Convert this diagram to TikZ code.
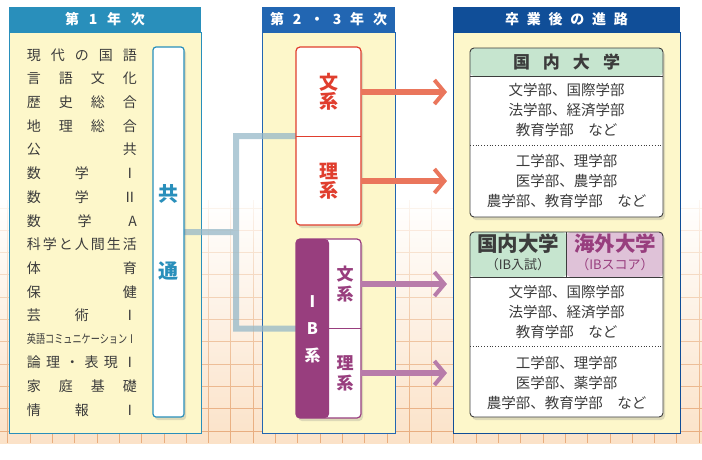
\documentclass[tikz,border=0pt]{standalone}
\usepackage{fontspec}
\setmainfont{Noto Sans CJK JP}
\usepackage{graphicx}
\usetikzlibrary{positioning,calc,arrows.meta,shadows,fadings,backgrounds}

\definecolor{colyellow}{RGB}{253,247,202}
\definecolor{headteal}{RGB}{41,143,187}
\definecolor{headblue}{RGB}{34,102,178}
\definecolor{headnavy}{RGB}{16,78,152}
\definecolor{bunred}{RGB}{224,62,46}
\definecolor{arrowred}{RGB}{234,118,92}
\definecolor{ibpurple}{RGB}{152,62,126}
\definecolor{arrowpurple}{RGB}{184,124,170}
\definecolor{linkgray}{RGB}{150,184,200}
\definecolor{unigreen}{RGB}{198,229,207}
\definecolor{unipink}{RGB}{223,194,216}
\definecolor{textgray}{RGB}{60,60,60}
\definecolor{gridpeach}{RGB}{232,172,125}
\definecolor{bgpeach}{RGB}{251,226,200}

\tikzfading[name=gridfade, top color=transparent!90, bottom color=transparent!0]

\pgfdeclarelayer{links}
\pgfsetlayers{background,links,main}

\newcommand{\spread}[2]{\makebox[#1][s]{#2}}

\begin{document}
\begin{tikzpicture}[
  x=1pt, y=-1pt,
  every node/.style={inner sep=0pt, outer sep=0pt, align=center},
  colhead/.style={minimum height=25pt, text=white, font=\bfseries\fontsize{14}{14}\selectfont},
  colbody/.style={fill=colyellow, line width=0.8pt, minimum height=401pt},
  subj/.style={anchor=west, text=textgray, font=\fontsize{14}{14}\selectfont},
  shade/.style={drop shadow={opacity=0.25, shadow xshift=2pt, shadow yshift=-3pt}},
  kyobox/.style={shade, fill=white, draw=headteal, line width=1.2pt, rounded corners=3pt},
  kyotext/.style={text=headteal, font=\bfseries\fontsize{20}{20}\selectfont},
  bunbox/.style={shade, fill=white, draw=bunred, line width=1.2pt, rounded corners=4pt},
  buntext/.style={text=bunred, font=\bfseries\fontsize{19}{19}\selectfont},
  ibbox/.style={shade, fill=white, draw=ibpurple, line width=1.2pt, rounded corners=4pt},
  ibtext/.style={text=ibpurple, font=\bfseries\fontsize{17}{20}\selectfont},
  unibox/.style={shade, fill=white, draw=textgray, line width=0.9pt, rounded corners=4pt},
  unihead/.style={text=textgray, font=\bfseries\fontsize{17}{17}\selectfont},
  unibig/.style={text=textgray, font=\bfseries\fontsize{20.5}{21}\selectfont},
  unisub/.style={text=textgray, font=\fontsize{13}{13}\selectfont},
  unitext/.style={text=textgray, font=\fontsize{14.5}{20}\selectfont},
  dotline/.style={textgray, line width=0.8pt, dotted},
  link/.style={linkgray, line width=6pt},
  redarrow/.style={arrowred, line width=6pt, shorten >=6pt,
    -{Straight Barb[length=10pt, width=24pt, line width=4pt]}},
  purplearrow/.style={redarrow, arrowpurple}
]
\useasboundingbox (0,0) rectangle (702,459);

% background grid and columns
\begin{scope}[on background layer]
  \fill[top color=white, bottom color=bgpeach] (0,200) rectangle (702,443);
  \draw[gridpeach, line width=1pt, path fading=gridfade]
    \foreach \gx in {0,...,31} {({8+22.3*\gx},200) -- ({8+22.3*\gx},443)}
    \foreach \gy in {0,...,10} {(0,{208+22.3*\gy}) -- (702,{208+22.3*\gy})};

  \node[colhead, fill=headteal, minimum width=192pt, anchor=north west] (head1) at (9,7)
    {\spread{80pt}{第\hfill 1\hfill 年\hfill 次}};
  \node[colbody, draw=headteal, minimum width=192pt, below=0pt of head1] (body1) {};
  \node[colhead, fill=headblue, minimum width=133pt, anchor=north west] (head2) at (262,7)
    {\spread{117pt}{第\hfill 2\hfill ・\hfill 3\hfill 年\hfill 次}};
  \node[colbody, draw=headblue, minimum width=133pt, below=0pt of head2] (body2) {};
  \node[colhead, fill=headnavy, minimum width=227pt, anchor=north west] (head3) at (453,7)
    {\spread{123pt}{卒\hfill 業\hfill 後\hfill の\hfill 進\hfill 路}};
  \node[colbody, draw=headnavy, minimum width=227pt, below=0pt of head3] (body3) {};
\end{scope}

% first year
\foreach \txt [count=\i] in {
  {現\hfill 代\hfill の\hfill 国\hfill 語},
  {言\hfill 語\hfill 文\hfill 化},
  {歴\hfill 史\hfill 総\hfill 合},
  {地\hfill 理\hfill 総\hfill 合},
  {公\hfill 共},
  {数\hfill 学\hfill Ⅰ},
  {数\hfill 学\hfill Ⅱ},
  {数\hfill 学\hfill A},
  {科\hfill 学\hfill と\hfill 人\hfill 間\hfill 生\hfill 活},
  {体\hfill 育},
  {保\hfill 健},
  {芸\hfill 術\hfill Ⅰ},
  {\scalebox{0.76}[1]{\fontsize{12}{12}\selectfont 英語コミュニケーションⅠ}},
  {論\hfill 理\hfill ・\hfill 表\hfill 現\hfill Ⅰ},
  {家\hfill 庭\hfill 基\hfill 礎},
  {情\hfill 報\hfill Ⅰ}}
  \node[subj] (subj\i) at (27,{55+23.67*(\i-1)}) {\spread{110pt}{\txt}};

\node[kyobox, minimum width=31pt, minimum height=370pt, anchor=north west] (kyotsu) at (153,47) {};
\node[kyotext] (kyo1) at (168.5,194) {共};
\node[kyotext] (kyo2) at (168.5,271) {通};

% second and third year
\node[bunbox, minimum width=65pt, minimum height=178pt, anchor=north west] (bunri) at (296,47) {};
\draw[bunred, line width=0.8pt] (bunri.west) -- (bunri.east);
\node[buntext] (bunkei) at (328.5,92) {文\\系};
\node[buntext] (rikei) at (328.5,181) {理\\系};

\node[ibbox, minimum width=65pt, minimum height=179pt, anchor=north west,
  path picture={\fill[ibpurple] (path picture bounding box.north west)
    rectangle ([xshift=33pt]path picture bounding box.south west);}] (ib) at (296,239) {};
\draw[ibpurple, line width=0.8pt] (ib.east) -- ++(-32,0);
\node[text=white, font=\bfseries\fontsize{16}{27}\selectfont] (ibname) at (312.5,329) {I\\B\\系};
\node[ibtext] (ibbun) at (345,284) {文\\系};
\node[ibtext] (ibri) at (345,373) {理\\系};

\begin{pgfonlayer}{links}
  \begin{scope}[transparency group, opacity=0.75]
    \coordinate (fork) at (236,232);
    \draw[link] (kyotsu.east) -- (fork);
    \draw[link] (bunri.west) -| (fork);
    \draw[link] (ib.west) -| (fork);
  \end{scope}
\end{pgfonlayer}

\draw[redarrow] (bunkei.east -| bunri.east) -- (bunkei.east -| body3.west);
\draw[redarrow] (rikei.east -| bunri.east) -- (rikei.east -| body3.west);
\draw[purplearrow] (ibbun.east -| ib.east) -- (ibbun.east -| body3.west);
\draw[purplearrow] (ibri.east -| ib.east) -- (ibri.east -| body3.west);

% after graduation
\node[unibox, minimum width=193pt, minimum height=169pt, anchor=north west,
  path picture={\fill[unigreen] (path picture bounding box.north west)
    rectangle ([yshift=-28pt]path picture bounding box.north east);}] (uni1) at (470,48) {};
\draw[textgray, line width=0.8pt] ([yshift=-28pt]uni1.north west) -- ([yshift=-28pt]uni1.north east);
\node[unihead] (kokunai1) at (566.5,62) {\spread{107pt}{国\hfill 内\hfill 大\hfill 学}};
\node[unitext] (bun1) at (566.5,110) {文学部、国際学部\\法学部、経済学部\\教育学部　など};
\draw[dotline] (uni1.west |- 0,145) -- (uni1.east |- 0,145);
\node[unitext] (ri1) at (566.5,181) {工学部、理学部\\医学部、農学部\\農学部、教育学部　など};

\node[unibox, minimum width=193pt, minimum height=185pt, anchor=north west,
  path picture={\fill[unigreen] (path picture bounding box.north west)
    rectangle ([yshift=-45pt]path picture bounding box.north);
    \fill[unipink] (path picture bounding box.north)
    rectangle ([yshift=-45pt]path picture bounding box.north east);}] (uni2) at (470,232) {};
\draw[textgray, line width=0.8pt] ([yshift=-45pt]uni2.north west) -- ([yshift=-45pt]uni2.north east);
\draw[textgray, line width=0.8pt] (uni2.north) -- ++(0,45);
\node[unibig] (kokunai2) at (518,244) {国内大学};
\node[unisub] (ibnyushi) at (518,265) {（IB入試）};
\node[unibig, text=ibpurple] (kaigai) at (615,244) {海外大学};
\node[unisub, text=ibpurple] (ibscore) at (615,265) {（IBスコア）};
\node[unitext] (bun2) at (566.5,312) {文学部、国際学部\\法学部、経済学部\\教育学部　など};
\draw[dotline] (uni2.west |- 0,346) -- (uni2.east |- 0,346);
\node[unitext] (ri2) at (566.5,383) {工学部、理学部\\医学部、薬学部\\農学部、教育学部　など};

\end{tikzpicture}
\end{document}
